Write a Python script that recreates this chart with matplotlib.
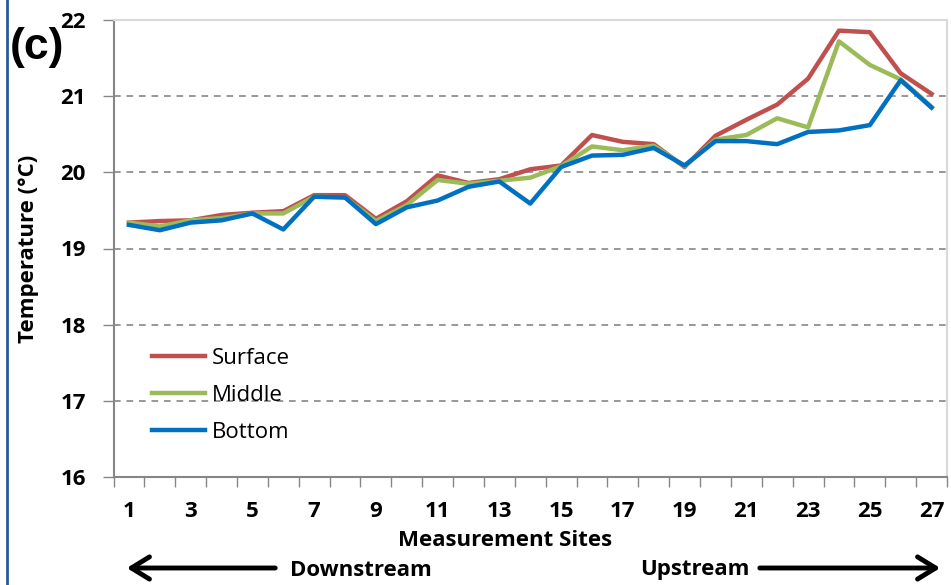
import matplotlib.pyplot as plt
import numpy as np
from matplotlib.patches import FancyArrowPatch

plt.rcParams['font.family'] = ['Open Sans', 'DejaVu Sans']

# measurement sites 1..27
sites = np.arange(1, 28)

surface = [19.34, 19.36, 19.37, 19.44, 19.47, 19.49, 19.70, 19.70, 19.39, 19.62,
           19.96, 19.86, 19.91, 20.04, 20.09, 20.49, 20.40, 20.37, 20.07, 20.48,
           20.69, 20.89, 21.23, 21.86, 21.84, 21.30, 21.03]
middle = [19.34, 19.29, 19.37, 19.40, 19.46, 19.46, 19.68, 19.67, 19.36, 19.57,
          19.90, 19.85, 19.89, 19.93, 20.08, 20.34, 20.29, 20.35, 20.08, 20.43,
          20.49, 20.71, 20.59, 21.72, 21.41, 21.22, 20.86]
bottom = [19.31, 19.24, 19.34, 19.37, 19.46, 19.25, 19.68, 19.67, 19.32, 19.54,
          19.63, 19.81, 19.88, 19.59, 20.07, 20.22, 20.23, 20.32, 20.09, 20.41,
          20.41, 20.37, 20.53, 20.55, 20.62, 21.21, 20.85]

y_ticks = [16, 17, 18, 19, 20, 21, 22]
x_labels = [1, 3, 5, 7, 9, 11, 13, 15, 17, 19, 21, 23, 25, 27]

fig = plt.figure(figsize=(9.51, 5.85), dpi=100)
ax = fig.add_axes([113.5/951, 1-477/585, (947-113.5)/951, (477-20)/585])

ax.plot(sites, surface, color='#C0504D', lw=3.2, label='Surface', zorder=3)
ax.plot(sites, middle, color='#9BBB59', lw=3.2, label='Middle', zorder=3)
ax.plot(sites, bottom, color='#0070C0', lw=3.2, label='Bottom', zorder=3)

ax.set_xlim(0.5, 27.5)
ax.set_ylim(16, 22)

# y axis
ax.set_yticks(y_ticks)
ax.set_yticklabels([str(v) for v in y_ticks], fontweight='bold', fontsize=16)
ax.tick_params(axis='y', length=8, width=1, color='#868686', pad=12, direction='out')
for v in y_ticks[1:-1]:
    ax.axhline(v, color='#868686', lw=1.2, ls=(0, (4, 3.5)), zorder=1)

# x axis: ticks on the category boundaries, labels on odd sites
ax.set_xticks(np.arange(0.5, 28, 1))
ax.set_xticklabels([])
ax.tick_params(axis='x', which='major', length=7, width=1, color='#868686', direction='out')
ax.set_xticks(x_labels, minor=True)
ax.set_xticklabels([str(v) for v in x_labels], minor=True, fontweight='bold', fontsize=16)
ax.tick_params(axis='x', which='minor', length=0, pad=17)

for s in ['left', 'bottom']:
    ax.spines[s].set_color('#868686')
    ax.spines[s].set_linewidth(1.5)
for s in ['top', 'right']:
    ax.spines[s].set_color('#d9d9d9')
    ax.spines[s].set_linewidth(1.5)

ax.set_ylabel('Temperature (°C)', fontweight='bold', fontsize=16)
ax.yaxis.set_label_coords(-0.089, 0.5)

leg = ax.legend(loc='lower left', bbox_to_anchor=(0.035, 0.055), frameon=False,
                fontsize=16, handlelength=2.4, handletextpad=0.3, labelspacing=0.73,
                borderaxespad=0)

fig.text(505/951, 1-541/585, 'Measurement Sites', ha='center', va='center',
         fontweight='bold', fontsize=16)
fig.text(290/951, 1-570/585, 'Downstream', ha='left', va='center',
         fontweight='bold', fontsize=16)
fig.text(749/951, 1-570/585, 'Upstream', ha='right', va='center',
         fontweight='bold', fontsize=16)
fig.add_artist(FancyArrowPatch(
    (278/951, 1-568/585), (124/951, 1-568/585), transform=fig.transFigure,
    arrowstyle='->,head_length=13,head_width=8', lw=3.5, color='black', mutation_scale=1))
fig.add_artist(FancyArrowPatch(
    (757/951, 1-568/585), (943/951, 1-568/585), transform=fig.transFigure,
    arrowstyle='->,head_length=13,head_width=8', lw=3.5, color='black', mutation_scale=1))

fig.text(10/951, 1-48/585, '(c)', ha='left', va='center', fontweight='bold',
         fontsize=32, family='Liberation Sans')

# left border line
fig.add_artist(plt.Line2D([6.5/951, 6.5/951], [0, 1], transform=fig.transFigure,
                          color='#2a5a96', lw=2))

fig.savefig('out.png', dpi=100)
